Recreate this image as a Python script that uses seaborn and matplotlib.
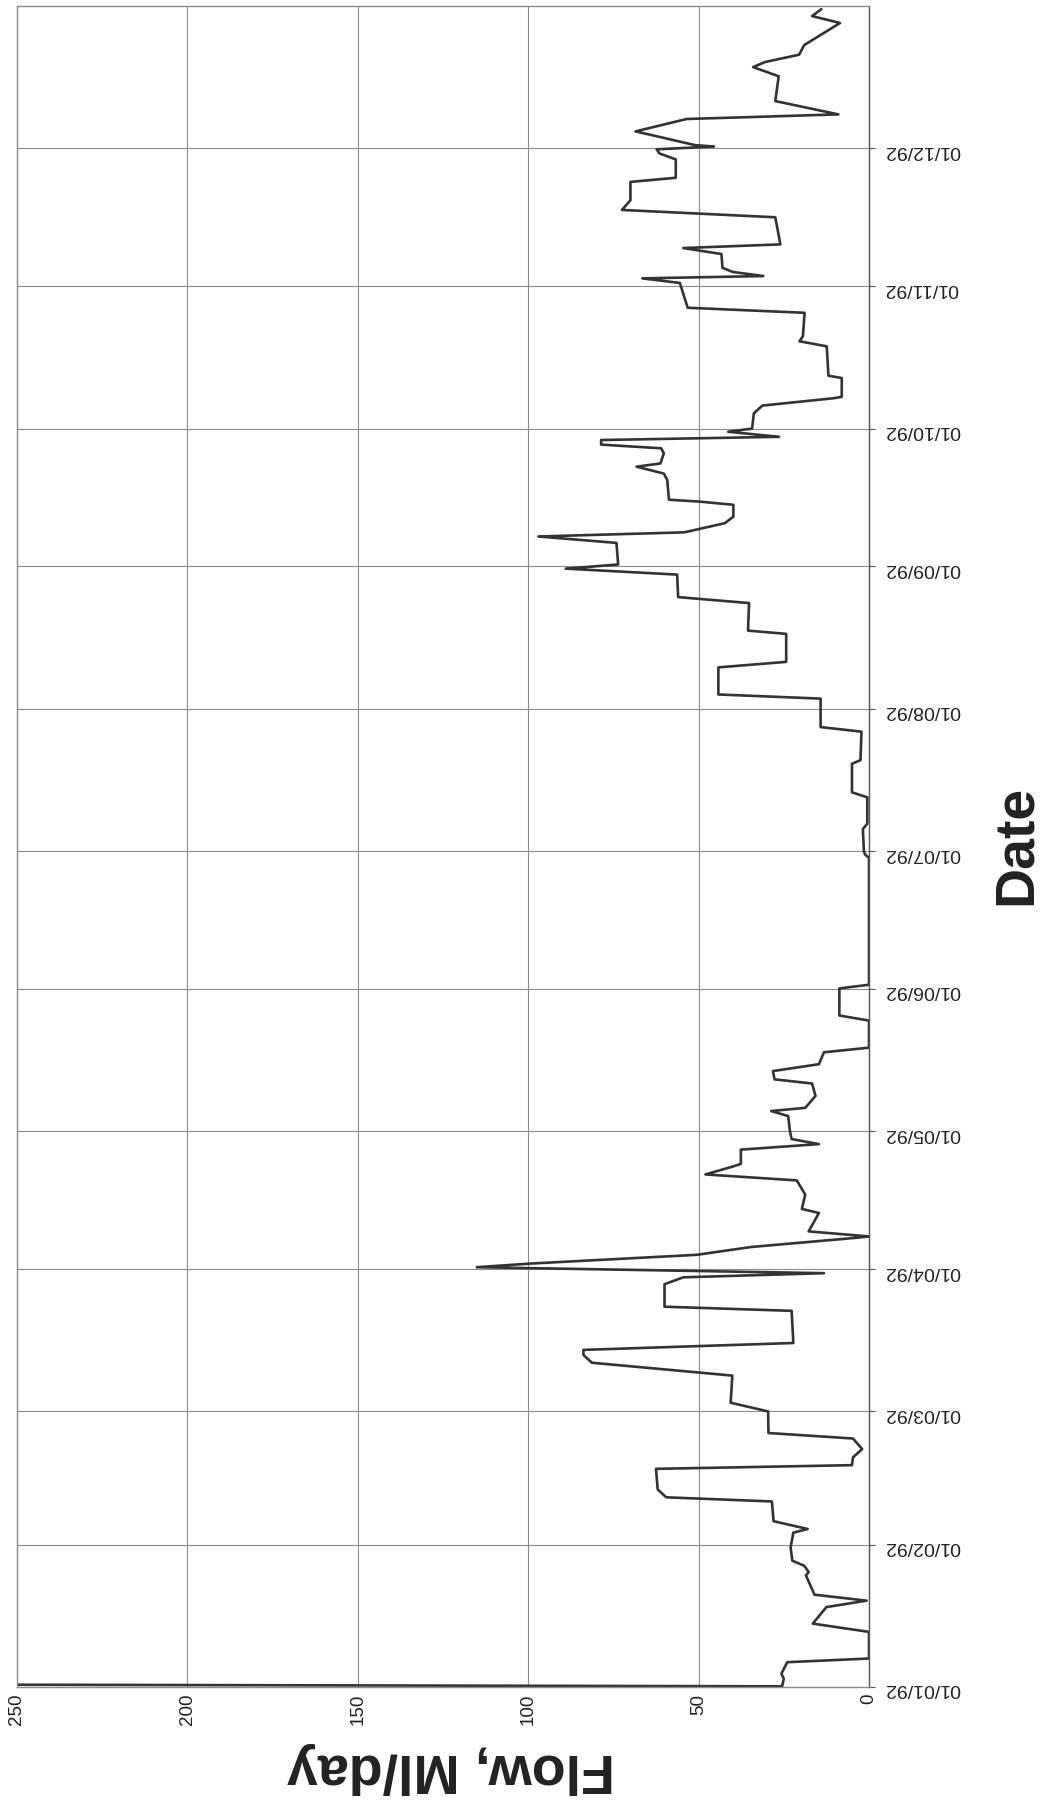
import numpy as np
import pandas as pd
import matplotlib
matplotlib.use("Agg")
import matplotlib.pyplot as plt
import matplotlib.dates as mdates
import seaborn as sns

# days after 01/01/92 and flow in Ml/day at each corner of the trace
day_offsets = [
    0.5, 0.15, 1.8, 2.9, 5.4, 6.2, 12.0, 13.8, 17.4, 18.8, 20.1, 24.3, 25.0, 26.4,
    27.5, 30.4, 33.6, 34.4, 36.1, 40.4, 41.3, 43.0, 47.5, 48.3, 50.0, 51.8, 54.1,
    55.3, 60.0, 61.9, 67.8, 70.6, 72.3, 73.4, 74.9, 81.9, 82.8, 87.7, 89.2, 90.1,
    91.4, 92.2, 94.1, 95.8, 97.8, 98.1, 99.2, 103.2, 104.1, 107.2, 110.3, 111.6,
    113.4, 113.9, 117.0, 118.2, 119.3, 121.0, 124.3, 125.4, 126.1, 128.7, 131.4,
    132.3, 134.1, 135.6, 138.2, 139.2, 145.1, 146.2, 152.1, 152.9, 180.5, 181.3,
    182.0, 186.8, 187.5, 188.0, 193.7, 194.8, 201.0, 201.8, 208.0, 209.0, 215.2,
    216.1, 222.0, 223.2, 229.3, 230.0, 236.0, 237.3, 242.2, 243.5, 244.4, 249.1,
    250.5, 251.4, 253.4, 254.8, 257.4, 258.1, 258.5, 262.8, 264.2, 265.7, 266.4,
    268.6, 269.7, 270.5, 271.5, 272.2, 273.3, 274.0, 277.3, 279.0, 280.6, 280.9,
    285.0, 285.5, 291.9, 293.0, 294.1, 299.2, 300.3, 305.7, 306.7, 307.2, 308.1,
    309.0, 312.0, 313.3, 314.1, 320.0, 321.6, 323.7, 327.7, 328.6, 332.6, 333.9,
    334.8, 335.4, 335.7, 338.7, 341.4, 342.4, 345.3, 350.7, 352.7, 353.8, 355.4,
    357.5, 362.3, 363.8, 365.3,
]
flow_mld = [
    250, 25.5, 25, 25.7, 24, 0, 0, 16.5, 12.5, 0.7, 16, 18.5, 17.7, 19,
    22.5, 23, 22.2, 18, 28, 28.5, 59.5, 62, 62.5, 5, 4.7, 2, 4.7,
    29.5, 29.6, 40.6, 40.1, 81.3, 83.8, 83.8, 22.2, 22.7, 60, 60, 54.5, 13.2,
    115.1, 99.2, 50.5, 34.6, 3.8, 0, 17.7, 14.7, 19.7, 18.7, 21.2, 48,
    39.6, 37.6, 37.6, 14.7, 22.7, 23.2, 23.7, 28.7, 18.7, 15.7, 16.7,
    27.7, 28.2, 14.7, 13.2, 0, 0, 8.7, 8.7, 0, 0, 1.2,
    1.5, 1.8, 1, 0.5, 0.5, 5, 5, 2.5, 2.2, 14.2, 14.2,
    44.2, 44.2, 24.3, 24.3, 35.5, 35.2, 56, 56.3, 89, 73.6, 74.1,
    97, 54.2, 42.3, 39.8, 39.8, 49.8, 58.7, 59.2, 60.2, 68.2, 61.2,
    60.2, 61, 78.6, 78.6, 26.4, 41.3, 34.3, 33.8, 31.3, 10.4, 8,
    8, 11.9, 12.4, 20.4, 19.4, 18.9, 53.2, 55.5, 66.5, 31, 40,
    43, 43.3, 54.5, 26, 27.5, 72.5, 70, 70, 56.7, 56.7, 61.5,
    62.3, 45.5, 51, 68.5, 53.5, 9, 27.5, 26.5, 34, 30.5, 20.5,
    19, 8.5, 16.7, 14,
]
month_ticks = pd.date_range("1992-01-01", "1992-12-01", freq="MS")
flow_ticks = [0, 50, 100, 150, 200, 250]

sns.set_style("white")
plt.rcParams["font.family"] = ["Liberation Sans", "DejaVu Sans"]

dates = pd.Timestamp("1992-01-01") + pd.to_timedelta(day_offsets, unit="D")
df = pd.DataFrame({"date": dates, "flow": flow_mld})

fig = plt.figure(figsize=(10.46, 18.12), dpi=100)
ax = fig.add_axes([17 / 1046, 1 - 1687 / 1812, 852 / 1046, 1681 / 1812])

# chart is drawn turned on its side: flow runs right to left, dates run upwards
sns.lineplot(data=df, x="flow", y="date", sort=False, estimator=None,
             color="#333333", linewidth=1.9, ax=ax)
ax.set_xlim(250, 0)
ax.set_ylim(pd.Timestamp("1992-01-01"), pd.Timestamp("1993-01-01"))
ax.set_xticks(flow_ticks)
ax.set_yticks(month_ticks)
ax.yaxis.set_major_formatter(mdates.DateFormatter("%d/%m/%y"))
ax.yaxis.tick_right()
ax.tick_params(axis="y", direction="out", length=4, width=0.8, color="#555555",
               labelsize=14, pad=7, labelrotation=180, labelcolor="#222222")
ax.tick_params(axis="x", length=0, labelsize=13.5, pad=5, labelrotation=90,
               labelcolor="#222222")
ax.grid(True, color="#8c8c8c", linewidth=0.8)
for sp in ax.spines.values():
    sp.set_color("#8c8c8c")
    sp.set_linewidth(1.0)
ax.spines["right"].set_color("#555555")

ax.set_xlabel("Flow, Ml/day", fontsize=40, fontweight="bold", rotation=180,
              color="#222222", ha="center", va="center")
ax.xaxis.set_label_coords(0.509, -0.048)
ax.yaxis.set_label_position("right")
ax.set_ylabel("Date", fontsize=40, fontweight="bold", rotation=90,
              color="#222222", ha="center", va="center")
ax.yaxis.set_label_coords(1.174, 0.501)

fig.savefig("out.png", dpi=100)
